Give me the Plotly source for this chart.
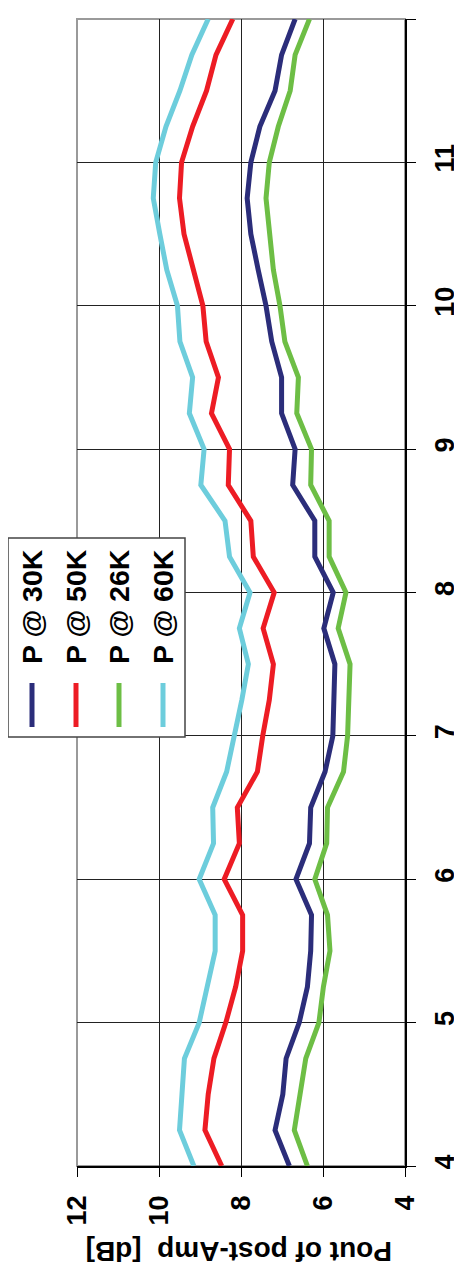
import plotly.graph_objects as go

freq = [4 + 0.25 * i for i in range(33)]

p30k = [6.82, 7.17, 6.98, 6.90, 6.58, 6.38, 6.30, 6.28, 6.66, 6.33, 6.30, 5.95, 5.76, 5.73, 5.71, 5.98,
        5.75, 6.20, 6.20, 6.74, 6.68, 7.01, 7.01, 7.25, 7.39, 7.58, 7.76, 7.85, 7.76, 7.54, 7.17, 7.01, 6.68]
p50k = [8.47, 8.88, 8.80, 8.66, 8.37, 8.13, 7.96, 7.96, 8.41, 8.04, 8.09, 7.60, 7.47, 7.31, 7.21, 7.46,
        7.19, 7.70, 7.76, 8.31, 8.28, 8.72, 8.55, 8.85, 8.93, 9.16, 9.39, 9.50, 9.45, 9.18, 8.84, 8.61, 8.20]
p26k = [6.38, 6.70, 6.56, 6.42, 6.10, 5.99, 5.83, 5.89, 6.20, 5.91, 5.89, 5.50, 5.40, 5.36, 5.34, 5.63,
        5.44, 5.85, 5.85, 6.30, 6.28, 6.64, 6.60, 6.93, 7.05, 7.21, 7.31, 7.39, 7.31, 7.09, 6.80, 6.68, 6.33]
p60k = [9.15, 9.50, 9.44, 9.38, 9.02, 8.84, 8.63, 8.63, 9.02, 8.67, 8.69, 8.35, 8.15, 7.98, 7.82, 8.04,
        7.78, 8.28, 8.39, 8.98, 8.90, 9.26, 9.18, 9.49, 9.55, 9.81, 9.98, 10.14, 10.08, 9.83, 9.49, 9.20, 8.80]

series_names = ["P @ 30K", "P @ 50K", "P @ 26K", "P @ 60K"]
series_values = [p30k, p50k, p26k, p60k]
colors = ["#2B2D7A", "#ED1C24", "#6DBE45", "#6DCDDC"]

power_ticks = [12, 10, 8, 6, 4]
freq_ticks = [4, 5, 6, 7, 8, 9, 10, 11, 12]
y_title = "Pout of post-Amp  [dB]"

FONT = "Liberation Sans, Arial, sans-serif"

fig = go.Figure()
for name, vals, col in zip(series_names, series_values, colors):
    fig.add_trace(go.Scatter(x=vals, y=freq, mode="lines", name=name,
                             line=dict(color=col, width=5), showlegend=False))

# target plot area in window pixels: left 77, right 405, top 19, bottom 1166
# the page body has an 8px margin, so the figure starts at (8, 8)
OFF = 8
L, R, T, B = 77 - OFF, 405 - OFF, 19 - OFF, 1166 - OFF
W, H = 462 - OFF, 1284 - OFF


def px(x):
    return (x - OFF - L) / (R - L)


def py(y):
    return (B - (y - OFF)) / (B - T)


shapes = [
    dict(type="rect", xref="paper", yref="paper", x0=0, x1=1, y0=0, y1=1,
         line=dict(color="#9a9a9a", width=2), layer="below"),
    # legend box
    dict(type="rect", xref="paper", yref="paper", x0=px(8), x1=px(185), y0=py(737), y1=py(538),
         line=dict(color="#444444", width=1.5), fillcolor="white", layer="above"),
]
annotations = []
leg_x = [32, 76, 119, 163]
for xpos, name, col in zip(leg_x, series_names, colors):
    shapes.append(dict(type="line", xref="paper", yref="paper", x0=px(xpos), x1=px(xpos),
                       y0=py(727), y1=py(683), line=dict(color=col, width=5), layer="above"))
    annotations.append(dict(x=px(xpos), y=py(607), xref="paper", yref="paper", text=name,
                            textangle=-90, showarrow=False, xanchor="center", yanchor="middle",
                            font=dict(family=FONT, size=28.5, color="black", weight="bold")))

annotations.append(dict(x=px(239), y=py(1252), xref="paper", yref="paper", text=y_title,
                        textangle=180, showarrow=False, xanchor="center", yanchor="middle",
                        font=dict(family=FONT, size=28, color="black", weight="bold")))

fig.update_layout(
    width=W, height=H,
    margin=dict(l=L, r=W - R, t=T, b=H - B, pad=0, autoexpand=False),
    paper_bgcolor="white", plot_bgcolor="white",
    shapes=shapes, annotations=annotations,
    showlegend=False,
    xaxis=dict(range=[12, 4], tickvals=power_ticks, ticktext=[str(v) for v in power_ticks],
               tickangle=-90, side="bottom", showgrid=True, gridcolor="#222222", gridwidth=1,
               showline=True, linecolor="black", linewidth=1.5, ticks="outside", ticklen=9,
               tickcolor="black", ticklabelstandoff=8, zeroline=False, automargin=False,
               tickfont=dict(family=FONT, size=27, color="black", weight="bold")),
    yaxis=dict(range=[4, 12], tickvals=freq_ticks, ticktext=[str(v) for v in freq_ticks],
               tickangle=-90, side="right", showgrid=True, gridcolor="#222222", gridwidth=1,
               showline=True, linecolor="black", linewidth=1.5, ticks="outside", ticklen=9,
               tickcolor="black", ticklabelstandoff=6, zeroline=False, automargin=False,
               tickfont=dict(family=FONT, size=27, color="black", weight="bold")),
)

fig.write_html("out.html")
